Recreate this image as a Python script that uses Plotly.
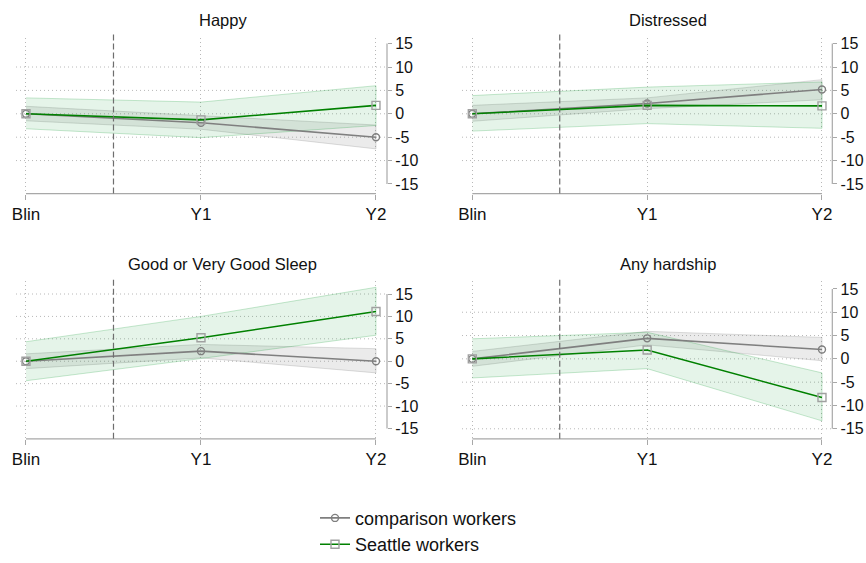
import plotly.graph_objects as go

# ---------------- data ----------------
periods = ["Blin", "Y1", "Y2"]
panel_titles = ["Happy", "Distressed", "Good or Very Good Sleep", "Any hardship"]
series_names = ["comparison workers", "Seattle workers"]
y_ticks = [-15, -10, -5, 0, 5, 10, 15]

# comparison workers: estimate, lower CI, upper CI
comp_est = [
    [0, -1.9, -5.0],
    [0, 2.2, 5.2],
    [0, 2.25, 0.0],
    [0, 4.4, 2.0],
]
comp_lo = [
    [-1.5, -3.3, -7.5],
    [-1.6, 1.1, 3.0],
    [-1.65, 0.75, -2.6],
    [-1.6, 3.0, -0.4],
]
comp_hi = [
    [1.6, -0.4, -2.4],
    [1.8, 3.4, 7.3],
    [1.65, 3.75, 2.8],
    [1.6, 5.9, 4.6],
]

# Seattle workers: estimate, lower CI, upper CI
sea_est = [
    [0, -1.3, 1.8],
    [0, 1.8, 1.7],
    [0, 5.25, 11.1],
    [0, 1.9, -8.3],
]
sea_lo = [
    [-3.2, -5.1, -2.5],
    [-3.7, -2.1, -3.1],
    [-4.35, 0.6, 5.8],
    [-4.1, -2.1, -13.3],
]
sea_hi = [
    [3.4, 2.5, 6.0],
    [3.9, 5.7, 6.8],
    [4.35, 10.0, 16.5],
    [4.3, 5.7, -3.0],
]

# ---------------- styling / layout ----------------
FONT = "Liberation Sans, Arial, Helvetica, sans-serif"
W, H = 866, 563
GRAY = "#7f7f7f"
GREEN = "#008000"
AXIS_C = "#a8a8a8"
GRID_C = "#b8b8b8"
DOT = "1px,3px"

x_domains = [[16 / W, 387 / W], [462 / W, 832.3 / W]] * 2
y_domains = [[1 - 196 / H, 1 - 38 / H]] * 2 + [[1 - 444.3 / H, 1 - 285 / H]] * 2
x_ranges = [[-0.0571, 2.0629], [-0.059, 2.059], [-0.0571, 2.0629], [-0.059, 2.059]]
y_ranges = [[-17.05, 16.3], [-17.05, 16.3], [-17.3, 17.8], [-17.14, 16.6]]
grid_vals = [[-10, -5, 0, 5, 10], [-10, -5, 0, 5, 10], [-10, -5, 0, 5, 10, 15], [-15, -10, -5, 0, 5, 10]]
title_pos = [(223, 20), (668, 20), (222, 267), (668, 267)]

fig = go.Figure()
shapes = []
annotations = []

for i in range(4):
    sfx = "" if i == 0 else str(i + 1)
    xa, ya = "x" + sfx, "y" + sfx
    first = i == 0

    # confidence bands
    fig.add_trace(go.Scatter(
        x=periods + periods[::-1], y=comp_hi[i] + comp_lo[i][::-1],
        xaxis=xa, yaxis=ya, mode="lines", fill="toself",
        fillcolor="rgba(128,128,128,0.16)",
        line=dict(color="rgba(128,128,128,0.25)", width=1),
        hoverinfo="skip", showlegend=False))
    fig.add_trace(go.Scatter(
        x=periods + periods[::-1], y=sea_hi[i] + sea_lo[i][::-1],
        xaxis=xa, yaxis=ya, mode="lines", fill="toself",
        fillcolor="rgba(0,150,40,0.10)",
        line=dict(color="rgba(0,150,40,0.22)", width=1),
        hoverinfo="skip", showlegend=False))
    # estimates
    fig.add_trace(go.Scatter(
        x=periods, y=comp_est[i], xaxis=xa, yaxis=ya,
        mode="lines+markers", name=series_names[0], showlegend=first,
        line=dict(color=GRAY, width=1.6),
        marker=dict(symbol="circle-open", size=7, color=GRAY, line=dict(width=1.4, color=GRAY))))
    fig.add_trace(go.Scatter(
        x=periods, y=sea_est[i], xaxis=xa, yaxis=ya,
        mode="lines+markers", name=series_names[1], showlegend=first,
        line=dict(color=GREEN, width=1.6),
        marker=dict(symbol="square-open", size=8, color="#a0a0a0", line=dict(width=1.4, color="#a0a0a0"))))

    fig.update_layout(**{
        "xaxis" + sfx: dict(
            domain=x_domains[i], anchor=ya, type="category", range=x_ranges[i],
            automargin=False,
            showgrid=True, griddash=DOT, gridcolor=GRID_C, gridwidth=1,
            zeroline=False, showline=False,
            ticks="outside", ticklen=5, tickcolor=AXIS_C, tickwidth=1,
            tickfont=dict(family=FONT, size=17, color="#111"),
            fixedrange=True),
        "yaxis" + sfx: dict(
            domain=y_domains[i], anchor=xa, side="right", range=y_ranges[i],
            automargin=False,
            tickvals=y_ticks, ticktext=[str(v) for v in y_ticks],
            showgrid=False, zeroline=False, showline=False,
            ticks="outside", ticklen=4, tickcolor=AXIS_C, tickwidth=1,
            tickfont=dict(family=FONT, size=16, color="#111"),
            fixedrange=True),
    })

    # horizontal dotted gridlines
    for g in grid_vals[i]:
        shapes.append(dict(type="line", xref=xa + " domain", yref=ya,
                           x0=0, x1=1, y0=g, y1=g, layer="below",
                           line=dict(color=GRID_C, width=1, dash=DOT)))
    # x axis line (Blin..Y2)
    shapes.append(dict(type="line", xref=xa, yref=ya + " domain",
                       x0=0, x1=2, y0=0, y1=0,
                       line=dict(color=AXIS_C, width=1.2)))
    # y axis line (-15..15)
    shapes.append(dict(type="line", xref=xa + " domain", yref=ya,
                       x0=1, x1=1, y0=y_ticks[0], y1=y_ticks[-1],
                       line=dict(color=AXIS_C, width=1.2)))
    # policy line between Blin and Y1
    shapes.append(dict(type="line", xref=xa, yref=ya + " domain",
                       x0=0.5, x1=0.5, y0=0, y1=1.03,
                       line=dict(color="#6e6e6e", width=1.2, dash="6px,3px")))

    tx, ty = title_pos[i]
    annotations.append(dict(text=panel_titles[i], xref="paper", yref="paper",
                            x=tx / W, y=1 - ty / H, xanchor="center", yanchor="middle",
                            showarrow=False, font=dict(family=FONT, size=16.5, color="#111")))

fig.update_layout(
    width=W, height=H,
    margin=dict(l=0, r=0, t=0, b=0),
    paper_bgcolor="white", plot_bgcolor="white",
    shapes=shapes, annotations=annotations,
    showlegend=True,
    legend=dict(x=315 / W, y=1 - 506 / H, xanchor="left", yanchor="top",
                orientation="v", bgcolor="rgba(0,0,0,0)", borderwidth=0,
                font=dict(family=FONT, size=18, color="#111"),
                itemwidth=30, tracegroupgap=0),
    font=dict(family=FONT),
)

fig.write_html("out.html",
               config={"displayModeBar": False},
               post_script="document.body.style.margin='0';document.body.style.overflow='hidden';")
